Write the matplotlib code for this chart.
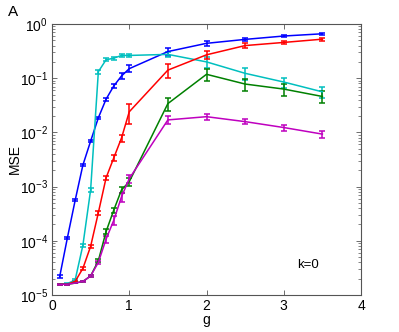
import numpy as np
import matplotlib
matplotlib.use("Agg")
import matplotlib.pyplot as plt
from matplotlib.ticker import LogLocator, FixedLocator

plt.rcParams['font.family'] = ['Liberation Sans', 'DejaVu Sans']
plt.rcParams['mathtext.fontset'] = 'custom'
plt.rcParams['mathtext.rm'] = 'Liberation Sans'
plt.rcParams['mathtext.it'] = 'Liberation Sans:italic'

g = [0.1, 0.2, 0.3, 0.4, 0.5, 0.6, 0.7, 0.8, 0.9, 1.0, 1.5, 2.0, 2.5, 3.0, 3.5]

blue_mse = [2.2e-5, 1.15e-4, 5.6e-4, 2.5e-3, 6.9e-3, 0.0186, 0.041, 0.072, 0.11, 0.15,
            0.31, 0.44, 0.52, 0.60, 0.66]
blue_err = [1.5e-6, 5e-6, 2.5e-5, 1.2e-4, 3e-4, 9e-4, 3e-3, 6e-3, 1.4e-2, 2.2e-2,
            0.05, 0.05, 0.035, 0.035, 0.035]

cyan_mse = [1.58e-5, 1.62e-5, 1.9e-5, 8.3e-5, 8.7e-4, 0.132, 0.219, 0.234, 0.263, 0.263,
            0.275, 0.2, 0.123, 0.085, 0.056]
cyan_err = [4e-7, 4e-7, 1e-6, 5e-6, 7e-5, 0.01, 0.012, 0.015, 0.02, 0.02,
            0.03, 0.045, 0.03, 0.018, 0.012]

red_mse = [1.58e-5, 1.58e-5, 1.78e-5, 3.1e-5, 7.9e-5, 3.3e-4, 1.45e-3, 3.4e-3, 7.9e-3, 0.024,
           0.141, 0.27, 0.40, 0.457, 0.525]
red_err = [3e-7, 3e-7, 6e-7, 2e-6, 5e-6, 3e-5, 1.4e-4, 4e-4, 1.2e-3, 0.01,
           0.04, 0.045, 0.04, 0.035, 0.03]

green_mse = [1.58e-5, 1.58e-5, 1.66e-5, 1.78e-5, 2.24e-5, 4.3e-5, 1.48e-4, 3.7e-4, 8.7e-4, 1.23e-3,
             0.034, 0.118, 0.078, 0.063, 0.046]
green_err = [3e-7, 3e-7, 3e-7, 4e-7, 1e-6, 3e-6, 1.6e-5, 4e-5, 1.2e-4, 2e-4,
             0.009, 0.028, 0.02, 0.016, 0.011]

magenta_mse = [1.58e-5, 1.58e-5, 1.66e-5, 1.78e-5, 2.24e-5, 4.0e-5, 1.07e-4, 2.4e-4, 6.5e-4, 1.4e-3,
               0.017, 0.0195, 0.0158, 0.0123, 0.0093]
magenta_err = [3e-7, 3e-7, 3e-7, 4e-7, 1e-6, 3e-6, 1.5e-5, 4.5e-5, 1.2e-4, 2.5e-4,
               0.0028, 0.0028, 0.0018, 0.0016, 0.0014]

series = [
    (blue_mse, blue_err, '#0000ff'),
    (cyan_mse, cyan_err, '#00bfbf'),
    (red_mse, red_err, '#ff0000'),
    (green_mse, green_err, '#008000'),
    (magenta_mse, magenta_err, '#bf00bf'),
]

fig = plt.figure(figsize=(3.99, 3.32), dpi=100)
ax = fig.add_axes([52/399, 37/332, 309/399, 271/332])

for mse, err, col in series:
    ax.errorbar(g, mse, yerr=err, color=col, lw=1.1, elinewidth=1.1,
                capsize=2.4, capthick=1.1)

ax.set_yscale('log')
ax.set_xlim(0, 4)
ax.set_ylim(1e-5, 1)
ax.xaxis.set_major_locator(FixedLocator([0, 1, 2, 3, 4]))
ax.yaxis.set_major_locator(LogLocator(base=10, numticks=10))
ax.yaxis.set_minor_locator(LogLocator(base=10, subs=np.arange(2, 10), numticks=10))
ax.tick_params(direction='in', which='both', top=True, right=True,
               labelsize=10, color='#555555', pad=3)
ax.tick_params(which='major', length=3.5, width=0.6)
ax.tick_params(which='minor', length=2, width=0.5)
for s in ax.spines.values():
    s.set_color('#555555')
    s.set_linewidth(0.8)

ax.set_xlabel('g', fontsize=10)
ax.set_ylabel('MSE', fontsize=10)
ax.xaxis.set_label_coords(0.5, -18/271, transform=ax.transAxes)
ax.yaxis.set_label_coords(-37/309, 0.5, transform=ax.transAxes)
ax.xaxis.label.set_va('top')
ax.yaxis.label.set_va('center')
ax.text(0.83, 0.11, 'k=0', transform=ax.transAxes, fontsize=9.5, ha='center', va='center')
fig.text(8/399, 1 - 12/332, 'A', fontsize=11, ha='left', va='center')

fig.savefig('out.png', dpi=100)
